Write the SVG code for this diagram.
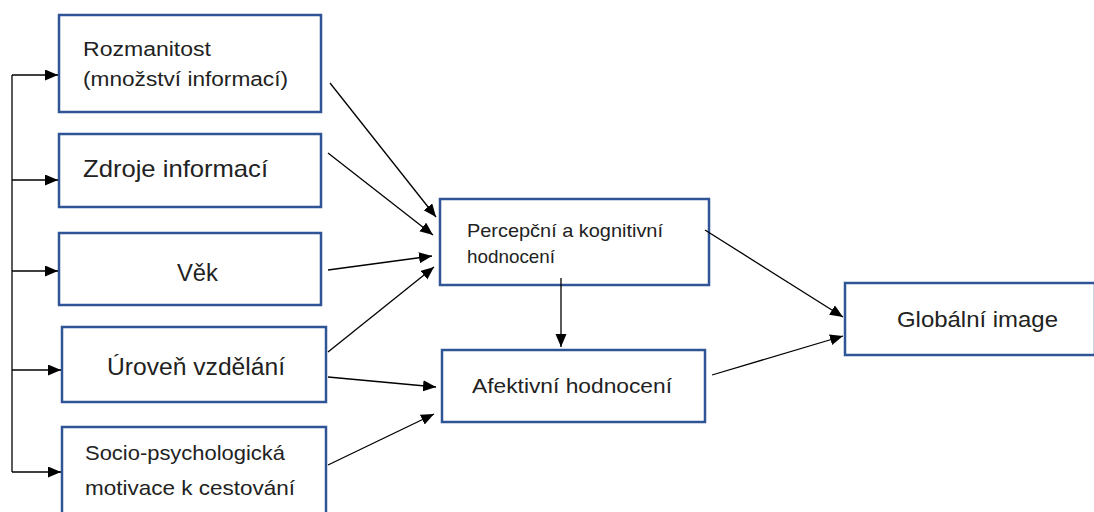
<svg xmlns="http://www.w3.org/2000/svg" width="1094" height="512" viewBox="0 0 1094 512">
<style>
.box{fill:#fff;stroke:#2F5597;stroke-width:2.5}
.t{font-family:"Liberation Sans",Arial,sans-serif;fill:#222}
.c{fill:none;stroke:#000;stroke-width:1.3}
</style>
<defs>
<marker id="ah" markerUnits="userSpaceOnUse" markerWidth="14" markerHeight="12" refX="13" refY="5.5" orient="auto">
<path d="M0,0 L13,5.5 L0,11 z" fill="#000"/>
</marker>
</defs>
<rect width="1094" height="512" fill="#fff"/>
<g id="n1"><rect class="box" x="59" y="15" width="262" height="97"/>
<text class="t" x="83" y="56" font-size="20" textLength="128" lengthAdjust="spacingAndGlyphs">Rozmanitost</text>
<text class="t" x="83" y="86" font-size="20" textLength="205" lengthAdjust="spacingAndGlyphs">(množství informací)</text></g>
<g id="n2"><rect class="box" x="59" y="134" width="262" height="73"/>
<text class="t" x="83" y="177" font-size="24" textLength="185" lengthAdjust="spacingAndGlyphs">Zdroje informací</text></g>
<g id="n3"><rect class="box" x="59" y="233" width="262" height="72"/>
<text class="t" x="177" y="281" font-size="23" textLength="41" lengthAdjust="spacingAndGlyphs">Věk</text></g>
<g id="n4"><rect class="box" x="62" y="327" width="264" height="75"/>
<text class="t" x="107" y="375" font-size="23" textLength="178" lengthAdjust="spacingAndGlyphs">Úroveň vzdělání</text></g>
<g id="n5"><rect class="box" x="62" y="427" width="264" height="100"/>
<text class="t" x="85" y="460" font-size="21" textLength="200" lengthAdjust="spacingAndGlyphs">Socio-psychologická</text>
<text class="t" x="85" y="495" font-size="21" textLength="210" lengthAdjust="spacingAndGlyphs">motivace k cestování</text></g>
<g id="n6"><rect class="box" x="440" y="199" width="269" height="86"/>
<text class="t" x="467" y="237" font-size="18.5" textLength="196" lengthAdjust="spacingAndGlyphs">Percepční a kognitivní</text>
<text class="t" x="467" y="263" font-size="18.5" textLength="88" lengthAdjust="spacingAndGlyphs">hodnocení</text></g>
<g id="n7"><rect class="box" x="442" y="350" width="263" height="72"/>
<text class="t" x="472" y="393" font-size="21" textLength="200" lengthAdjust="spacingAndGlyphs">Afektivní hodnocení</text></g>
<g id="n8"><rect class="box" x="845" y="283" width="250" height="72"/>
<text class="t" x="897" y="327" font-size="22" textLength="161" lengthAdjust="spacingAndGlyphs">Globální image</text></g>
<g id="connectors">
<path class="c" d="M12,75 V472"/>
<path class="c" d="M12,75 H58" marker-end="url(#ah)"/>
<path class="c" d="M12,180 H58" marker-end="url(#ah)"/>
<path class="c" d="M12,271 H58" marker-end="url(#ah)"/>
<path class="c" d="M12,370 H61" marker-end="url(#ah)"/>
<path class="c" d="M12,472 H61" marker-end="url(#ah)"/>
<path class="c" d="M330,83 L436,217" marker-end="url(#ah)"/>
<path class="c" d="M328,153 L433,235" marker-end="url(#ah)"/>
<path class="c" d="M328,270 L432,256" marker-end="url(#ah)"/>
<path class="c" d="M328,352 L434,267" marker-end="url(#ah)"/>
<path class="c" d="M328,377 L436,387" marker-end="url(#ah)"/>
<path class="c" d="M328,465 L434,414" marker-end="url(#ah)"/>
<path class="c" d="M561,278 V347" marker-end="url(#ah)"/>
<path class="c" d="M705,230 L843,317" marker-end="url(#ah)"/>
<path class="c" d="M712,375 L843,336" marker-end="url(#ah)"/>
</g>
</svg>
